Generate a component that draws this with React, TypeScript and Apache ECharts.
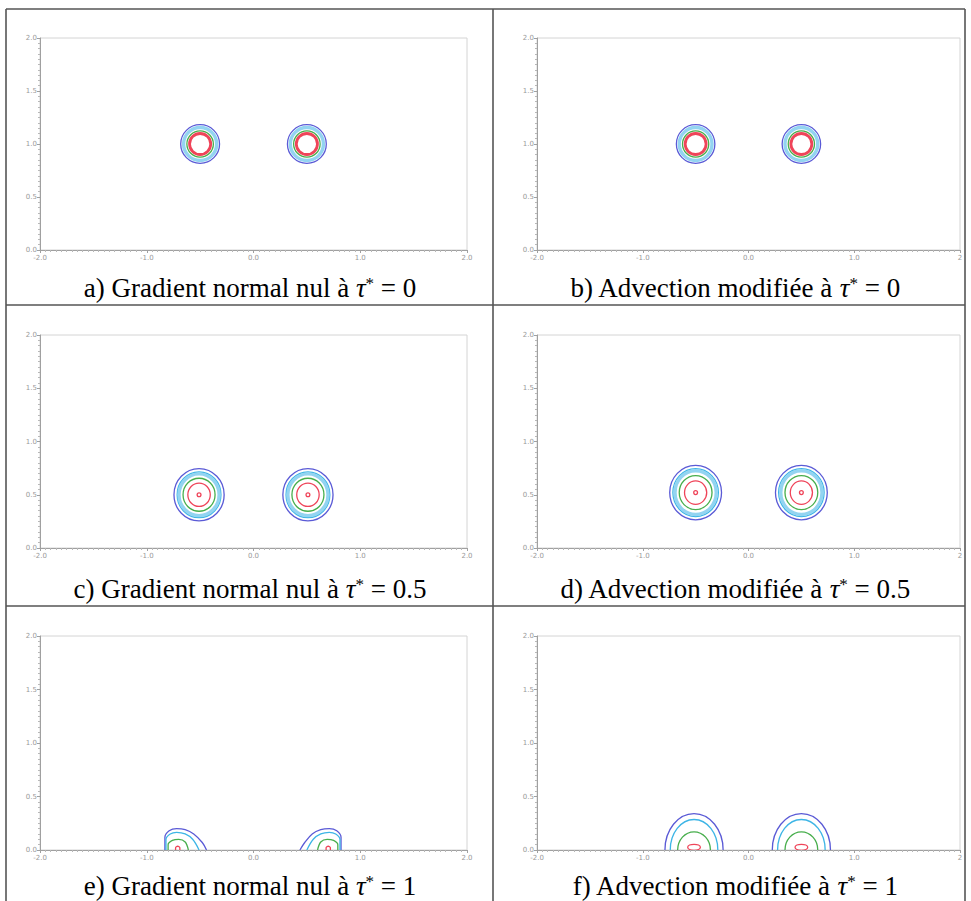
import React, { useEffect, useRef } from 'react';
import * as echarts from 'echarts';

// ---------- data ----------
const CAPTION_PREFIX = [
  'a) Gradient normal nul à ',
  'b) Advection modifiée à ',
  'c) Gradient normal nul à ',
  'd) Advection modifiée à ',
  'e) Gradient normal nul à ',
  'f) Advection modifiée à ',
];
const CAPTION_TAU = ['0', '0', '0.5', '0.5', '1', '1'];

const X_TICKS_LEFT = ['-2.0', '-1.0', '0.0', '1.0', '2.0'];
const X_TICKS_RIGHT = ['-2.0', '-1.0', '0.0', '1.0', '2'];
const Y_TICKS = ['0.0', '0.5', '1.0', '1.5', '2.0'];

// contour rings: [centerX, centerY, radiusX, radiusY, level]
const RINGS_A = [
  [-0.5, 1.0, 0.182, 0.182, 0], [-0.5, 1.0, 0.155, 0.155, 1], [-0.5, 1.0, 0.124, 0.124, 3], [-0.5, 1.0, 0.099, 0.099, 4],
  [0.5, 1.0, 0.182, 0.182, 0], [0.5, 1.0, 0.155, 0.155, 1], [0.5, 1.0, 0.124, 0.124, 3], [0.5, 1.0, 0.099, 0.099, 4],
];
const RINGS_B = [
  [-0.5, 1.0, 0.182, 0.182, 0], [-0.5, 1.0, 0.155, 0.155, 1], [-0.5, 1.0, 0.124, 0.124, 3], [-0.5, 1.0, 0.099, 0.099, 4],
  [0.5, 1.0, 0.182, 0.182, 0], [0.5, 1.0, 0.155, 0.155, 1], [0.5, 1.0, 0.124, 0.124, 3], [0.5, 1.0, 0.099, 0.099, 4],
];
const RINGS_C = [
  [-0.51, 0.5, 0.235, 0.245, 0], [-0.51, 0.5, 0.205, 0.215, 2], [-0.51, 0.5, 0.188, 0.196, 1], [-0.51, 0.5, 0.15, 0.155, 3], [-0.51, 0.5, 0.105, 0.11, 5], [-0.51, 0.5, 0.018, 0.018, 5],
  [0.51, 0.5, 0.235, 0.245, 0], [0.51, 0.5, 0.205, 0.215, 2], [0.51, 0.5, 0.188, 0.196, 1], [0.51, 0.5, 0.15, 0.155, 3], [0.51, 0.5, 0.105, 0.11, 5], [0.51, 0.5, 0.018, 0.018, 5],
];
const RINGS_D = [
  [-0.5, 0.52, 0.245, 0.255, 0], [-0.5, 0.52, 0.215, 0.225, 2], [-0.5, 0.52, 0.195, 0.205, 1], [-0.5, 0.52, 0.155, 0.16, 3], [-0.5, 0.52, 0.105, 0.11, 5], [-0.5, 0.52, 0.018, 0.018, 5],
  [0.5, 0.52, 0.245, 0.255, 0], [0.5, 0.52, 0.215, 0.225, 2], [0.5, 0.52, 0.195, 0.205, 1], [0.5, 0.52, 0.155, 0.16, 3], [0.5, 0.52, 0.105, 0.11, 5], [0.5, 0.52, 0.018, 0.018, 5],
];
// domes sitting on the wall (lower half cut by the wall)
const RINGS_F = [
  [-0.515, 0, 0.275, 0.34, 0], [-0.515, 0, 0.225, 0.285, 2], [-0.515, 0, 0.155, 0.17, 3], [-0.515, 0.025, 0.06, 0.028, 5],
  [0.5, 0, 0.275, 0.34, 0], [0.5, 0, 0.225, 0.285, 2], [0.5, 0, 0.155, 0.17, 3], [0.5, 0.025, 0.06, 0.028, 5],
];

// panel e: contour curves, [x, y]
const E_LEFT_BLUE = [[-0.83, 0], [-0.83, 0.12], [-0.79, 0.18], [-0.72, 0.2], [-0.64, 0.19], [-0.56, 0.15], [-0.48, 0.07], [-0.44, 0]];
const E_LEFT_CYAN = [[-0.82, 0], [-0.82, 0.1], [-0.78, 0.15], [-0.72, 0.165], [-0.64, 0.15], [-0.57, 0.1], [-0.51, 0]];
const E_LEFT_GREEN = [[-0.8, 0], [-0.8, 0.05], [-0.76, 0.09], [-0.7, 0.1], [-0.64, 0.075], [-0.61, 0]];
const E_LEFT_RED = [[-0.73, 0], [-0.73, 0.02], [-0.71, 0.035], [-0.69, 0.02], [-0.69, 0]];
const E_RIGHT_BLUE = [[0.82, 0], [0.82, 0.12], [0.78, 0.18], [0.71, 0.2], [0.63, 0.19], [0.55, 0.15], [0.48, 0.07], [0.435, 0]];
const E_RIGHT_CYAN = [[0.81, 0], [0.81, 0.1], [0.77, 0.15], [0.71, 0.165], [0.63, 0.15], [0.56, 0.1], [0.5, 0]];
const E_RIGHT_GREEN = [[0.79, 0], [0.79, 0.05], [0.75, 0.09], [0.69, 0.1], [0.63, 0.075], [0.6, 0]];
const E_RIGHT_RED = [[0.72, 0], [0.72, 0.02], [0.7, 0.035], [0.68, 0.02], [0.68, 0]];

// ---------- styles / layout ----------
const LEVEL_STYLE = [
  { color: '#5a5ad6', width: 1.3 },
  { color: '#93d4f1', width: 3.4 },
  { color: '#3db5e6', width: 1.3 },
  { color: '#47ae4c', width: 1.3 },
  { color: '#ef4459', width: 2.8 },
  { color: '#ef4459', width: 1.3 },
];
const COL_LAYOUT = [{ left: 40, width: 427, cx: 250 }, { left: 537, width: 423, cx: 735 }];
const ROW_LAYOUT = [{ top: 38, height: 212, capY: 288 }, { top: 335, height: 213, capY: 589 }, { top: 636, height: 214, capY: 886 }];
const SERIF = 'Liberation Serif';

function ringSeries(idx: number, data: number[][], clip: boolean) {
  return {
    type: 'custom',
    xAxisIndex: idx,
    yAxisIndex: idx,
    clip,
    data,
    renderItem: (_p: any, api: any) => {
      const c = api.coord([api.value(0), api.value(1)]);
      const s = api.size([api.value(2) * 2, api.value(3) * 2], [api.value(0), 1]);
      const st = LEVEL_STYLE[api.value(4)];
      return {
        type: 'ellipse',
        shape: { cx: c[0], cy: c[1], rx: s[0] / 2, ry: s[1] / 2 },
        style: { fill: 'none', stroke: st.color, lineWidth: st.width },
      };
    },
  };
}

function lineSeries(idx: number, data: number[][], level: number) {
  return {
    type: 'line',
    xAxisIndex: idx,
    yAxisIndex: idx,
    data,
    smooth: 0.35,
    symbol: 'none',
    lineStyle: { color: LEVEL_STYLE[level].color, width: LEVEL_STYLE[level].width },
  };
}

export default function App() {
  const ref = useRef<HTMLDivElement>(null);
  const capRef = useRef<HTMLDivElement>(null);
  useEffect(() => {
    if (!ref.current || !capRef.current) return;
    const chart = echarts.init(ref.current, null, { renderer: 'svg' });
    const capChart = echarts.init(capRef.current, null, { renderer: 'svg' });

    const grids: any[] = [];
    const xAxes: any[] = [];
    const yAxes: any[] = [];
    for (let i = 0; i < 6; i++) {
      const col = COL_LAYOUT[i % 2];
      const row = ROW_LAYOUT[Math.floor(i / 2)];
      grids.push({
        left: col.left, top: row.top, width: col.width, height: row.height,
        show: true, borderColor: '#d4d4d4', borderWidth: 1, backgroundColor: '#fff',
      });
      const xt = i % 2 === 0 ? X_TICKS_LEFT : X_TICKS_RIGHT;
      xAxes.push({
        type: 'value', gridIndex: i, min: -2, max: 2, interval: 1,
        axisLine: { show: true, onZero: false, lineStyle: { color: '#a0a0a0', width: 1 } },
        axisTick: { show: true, length: 3, lineStyle: { color: '#a0a0a0' } },
        minorTick: { show: true, splitNumber: 20, length: 2, lineStyle: { color: '#b8b8b8' } },
        splitLine: { show: false },
        axisLabel: {
          fontSize: 7, color: '#9a9a9a', margin: 4, fontFamily: 'DejaVu Sans',
          formatter: (v: number) => xt[Math.round(v + 2)],
        },
      });
      yAxes.push({
        type: 'value', gridIndex: i, min: 0, max: 2, interval: 0.5,
        axisLine: { show: true, onZero: false, lineStyle: { color: '#a0a0a0', width: 1 } },
        axisTick: { show: true, length: 3, lineStyle: { color: '#a0a0a0' } },
        minorTick: { show: true, splitNumber: 10, length: 2, lineStyle: { color: '#b8b8b8' } },
        splitLine: { show: false },
        axisLabel: {
          fontSize: 7, color: '#9a9a9a', margin: 3, fontFamily: 'DejaVu Sans',
          formatter: (v: number) => Y_TICKS[Math.round(v / 0.5)],
        },
      });
    }

    const series: any[] = [
      ringSeries(0, RINGS_A, true),
      ringSeries(1, RINGS_B, true),
      ringSeries(2, RINGS_C, true),
      ringSeries(3, RINGS_D, true),
      lineSeries(4, E_LEFT_BLUE, 0),
      lineSeries(4, E_LEFT_CYAN, 2),
      lineSeries(4, E_LEFT_GREEN, 3),
      lineSeries(4, E_LEFT_RED, 5),
      lineSeries(4, E_RIGHT_BLUE, 0),
      lineSeries(4, E_RIGHT_CYAN, 2),
      lineSeries(4, E_RIGHT_GREEN, 3),
      lineSeries(4, E_RIGHT_RED, 5),
      ringSeries(5, RINGS_F, true),
    ];

    const border = { stroke: '#555', lineWidth: 1.6 };
    const lines: any[] = [
      { type: 'line', shape: { x1: 6, y1: 9, x2: 965, y2: 9 }, style: border },
      { type: 'line', shape: { x1: 6, y1: 305, x2: 965, y2: 305 }, style: border },
      { type: 'line', shape: { x1: 6, y1: 606, x2: 965, y2: 606 }, style: border },
      { type: 'line', shape: { x1: 6, y1: 9, x2: 6, y2: 901 }, style: border },
      { type: 'line', shape: { x1: 493, y1: 9, x2: 493, y2: 901 }, style: border },
      { type: 'line', shape: { x1: 965, y1: 9, x2: 965, y2: 901 }, style: border },
    ];

    chart.setOption({
      animation: false,
      backgroundColor: '#fff',
      grid: grids,
      xAxis: xAxes,
      yAxis: yAxes,
      series,
      graphic: lines,
    });

    const captions: any[] = [];
    for (let i = 0; i < 6; i++) {
      const col = COL_LAYOUT[i % 2];
      const row = ROW_LAYOUT[Math.floor(i / 2)];
      captions.push({
        type: 'text',
        x: col.cx,
        y: row.capY,
        style: {
          text: `{n|${CAPTION_PREFIX[i]}}{t|τ}{s|*}{n| = ${CAPTION_TAU[i]}}`,
          align: 'center',
          verticalAlign: 'middle',
          rich: {
            n: { fontFamily: SERIF, fontSize: 27, color: '#111' },
            t: { fontFamily: SERIF, fontSize: 27, fontStyle: 'italic', color: '#111' },
            s: { fontFamily: SERIF, fontSize: 17, color: '#111', verticalAlign: 'top' },
          },
        },
      });
    }
    capChart.setOption({ animation: false, graphic: captions });

    return () => {
      chart.dispose();
      capChart.dispose();
    };
  }, []);
  return (
    <div style={{ position: 'absolute', left: 0, top: 0, width: 971, height: 901 }}>
      <div ref={ref} style={{ position: 'absolute', left: 0, top: 0, width: 971, height: 901 }} />
      <div ref={capRef} style={{ position: 'absolute', left: 0, top: 0, width: 971, height: 901, pointerEvents: 'none' }} />
    </div>
  );
}
